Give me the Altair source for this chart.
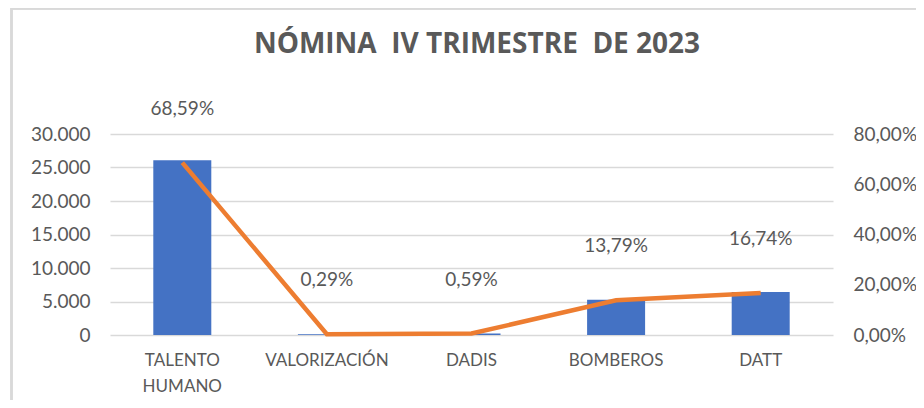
import altair as alt
import pandas as pd

categories = ["TALENTO HUMANO", "VALORIZACIÓN", "DADIS", "BOMBEROS", "DATT"]
amounts = [26100, 110, 225, 5250, 6400]
shares = [0.6859, 0.0029, 0.0059, 0.1379, 0.1674]
left_ticks = [0, 5000, 10000, 15000, 20000, 25000, 30000]
right_ticks = [0, 0.2, 0.4, 0.6, 0.8]
title_text = "NÓMINA\u00a0 IV TRIMESTRE\u00a0 DE 2023"

df = pd.DataFrame({"cat": categories, "amount": amounts, "pct": shares})
title_df = pd.DataFrame({"t": [title_text]})

GRAY = "#595959"
FONT = "Lato"

x = alt.X("cat:N", sort=categories,
          scale=alt.Scale(paddingInner=0, paddingOuter=0),
          axis=alt.Axis(title=None, labelAngle=0, domain=False, ticks=False,
                        labelFont=FONT, labelFontSize=17, labelColor=GRAY,
                        labelPadding=17, labelLineHeight=26,
                        labelExpr="datum.value == 'TALENTO HUMANO' ? ['TALENTO','HUMANO'] : datum.value"))

bars = alt.Chart(df).mark_bar(size=58, color="#4472C4").encode(
    x=x,
    y=alt.Y("amount:Q", scale=alt.Scale(domain=[0, 30000], nice=False),
            axis=alt.Axis(title=None, values=left_ticks, domain=False, ticks=False,
                          grid=True, gridColor="#d9d9d9", gridWidth=1.5,
                          labelFont=FONT, labelFontSize=19, labelColor=GRAY,
                          labelPadding=20,
                          labelExpr="replace(format(datum.value, ','), ',', '.')"))
)

pct_y = alt.Y("pct:Q", scale=alt.Scale(domain=[0, 0.8], nice=False),
              axis=alt.Axis(title=None, orient="right", values=right_ticks,
                            domain=False, ticks=False, grid=False,
                            labelFont=FONT, labelFontSize=19, labelColor=GRAY,
                            labelPadding=20,
                            labelExpr="replace(format(datum.value, '.2%'), '.', ',')"))

line = alt.Chart(df).mark_line(color="#ED7D31", strokeWidth=4.5).encode(x=x, y=pct_y)

labels = alt.Chart(df).transform_calculate(
    lab="replace(format(datum.pct, '.2%'), '.', ',')"
).mark_text(dy=-54, font=FONT, fontSize=19, color=GRAY).encode(
    x=x, y=pct_y, text="lab:N",
)

frame = alt.Chart(df).mark_rect(fill=None, stroke="#d9d9d9", strokeWidth=2).encode(
    x=alt.value(-98.5), x2=alt.value(840), y=alt.value(-125.5), y2=alt.value(320)
)

title = alt.Chart(title_df).mark_text(
    font="Open Sans", fontSize=28, fontWeight="bold", color=GRAY,
    align="center", baseline="alphabetic"
).encode(x=alt.value(367), y=alt.value(-81), text="t:N")

chart = alt.layer(
    frame, title, bars, alt.layer(line, labels)
).resolve_scale(y="independent").properties(
    width=723, height=201,
    autosize=alt.AutoSizeParams(type="none"),
    padding={"left": 102, "top": 126, "right": 83, "bottom": 65},
).configure_view(stroke=None)

chart.save("out.html", embed_options={"renderer": "svg", "actions": False})
